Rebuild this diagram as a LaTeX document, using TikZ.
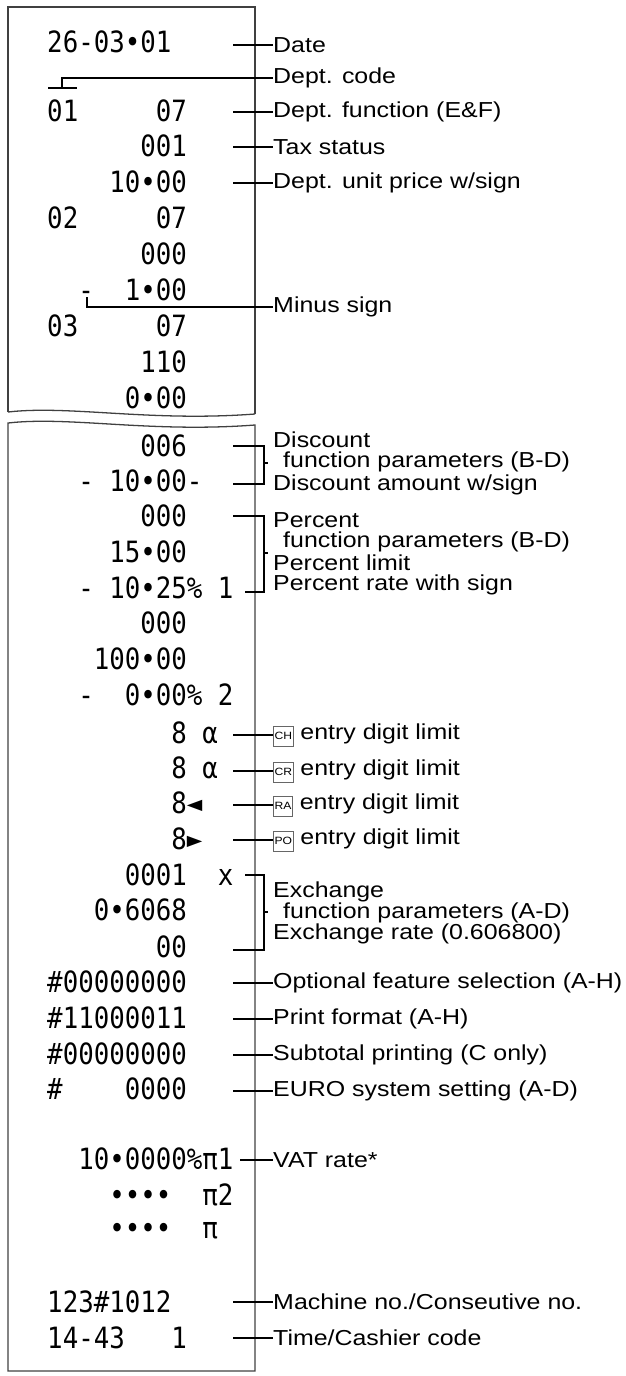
\documentclass[tikz,border=0pt]{standalone}
\usepackage{fontspec}
\setmainfont[FakeStretch=1.15]{Liberation Sans}
\newfontfamily\rcptfont[FakeStretch=0.88]{DejaVu Sans Mono}
\usetikzlibrary{calc}
\tikzstyle{row}=[anchor=west, inner sep=0pt, font=\rcptfont\fontsize{25}{25}\selectfont]
\tikzstyle{lbl}=[anchor=west, inner sep=0pt, font=\fontsize{18.5}{20}\selectfont, align=left]
\tikzstyle{lead}=[line width=0.9pt]
\tikzstyle{paper}=[line width=1.1pt, black!75]
\newcommand{\keybox}[1]{\tikz[baseline=(k.base)]\node[draw=black!60, line width=0.4pt, inner sep=1pt, minimum width=0.55cm, minimum height=0.6cm, font=\fontsize{9}{9}\selectfont] (k) {#1};}

\begin{document}
\begin{tikzpicture}[x=0.03cm, y=-0.03cm]
	\useasboundingbox (0,0) rectangle (626,1376);

	% paper strips
	\draw[paper] (8,412) -- (8,7) -- (255,7) -- (255,414);
	\draw[paper] (8,412) .. controls (70,405) and (150,422) .. (255,414);
	\draw[paper] (8,1371) -- (8,423) .. controls (70,416) and (150,433) .. (255,425) -- (255,1371) -- cycle;

	% printed rows
	\foreach \y/\t/\n in {42/26-03•01/date, 111/01~~~~~07/dfunc, 146/~~~~~~001/tax, 182/~~~~10•00/price,
		218/02~~~~~07/r5, 254/~~~~~~000/r6, 290/~~-~~1•00/minus, 326/03~~~~~07/r8, 362/~~~~~~110/r9, 398/~~~~~0•00/r10,
		446/~~~~~~006/disc, 481/~~-~10•00-/discamt, 516/~~~~~~000/pct, 552/~~~~15•00/pctlim, 588/~~-~10•25\%~1/pctrate,
		623/~~~~~~000/r16, 659/~~~100•00/r17, 695/~~-~~0•00\%~2/r18,
		733/~~~~~~~~8~α/ch, 768/~~~~~~~~8~α/cr, 803/~~~~~~~~8◄/ra, 839/~~~~~~~~8►/po,
		875/~~~~~0001~~x/exch, 910/~~~0•6068/exrate, 947/~~~~~~~00/exrate2,
		982/\#00000000/opt, 1018/\#11000011/fmt, 1054/\#00000000/sub, 1089/\#~~~~0000/euro,
		1159/~~10•0000\%π1/vat, 1195/~~~~••••~~π2/vat2, 1231/~~~~••••~~π/vat3,
		1302/123\#1012/mach, 1338/14-43~~~1/time}
		\node[row] (\n) at (47,\y) {\t};

	% labels
	\coordinate (lx) at (233,0);
	\node[lbl] (ldate) at (273,45) {Date};
	\node[lbl] (lcode) at (273,78) {Dept. code};
	\node[lbl] (lfunc) at (273,112) {Dept. function (E\&F)};
	\node[lbl] (ltax) at (273,147) {Tax status};
	\node[lbl] (lprice) at (273,183) {Dept. unit price w/sign};
	\node[lbl] (lminus) at (273,307) {Minus sign};
	\node[lbl] (ldisc) at (273,440) {Discount};
	\node[lbl] (ldiscf) at (283,462) {function parameters (B-D)};
	\node[lbl] (ldiscamt) at (273,485) {Discount amount w/sign};
	\node[lbl] (lpct) at (273,520) {Percent};
	\node[lbl] (lpctf) at (283,542) {function parameters (B-D)};
	\node[lbl] (lpctlim) at (273,563) {Percent limit};
	\node[lbl] (lpctrate) at (273,585) {Percent rate with sign};
	\node[lbl] (lch) at (273,735) {\keybox{CH} entry digit limit};
	\node[lbl] (lcr) at (273,771) {\keybox{CR} entry digit limit};
	\node[lbl] (lra) at (273,805) {\keybox{RA} entry digit limit};
	\node[lbl] (lpo) at (273,840) {\keybox{PO} entry digit limit};
	\node[lbl] (lexch) at (273,892) {Exchange};
	\node[lbl] (lexchf) at (283,913) {function parameters (A-D)};
	\node[lbl] (lexrate) at (273,934) {Exchange rate (0.606800)};
	\node[lbl] (lopt) at (273,983) {Optional feature selection (A-H)};
	\node[lbl] (lfmt) at (273,1019) {Print format (A-H)};
	\node[lbl] (lsub) at (273,1055) {Subtotal printing (C only)};
	\node[lbl] (leuro) at (273,1091) {EURO system setting (A-D)};
	\node[lbl] (lvat) at (273,1160) {VAT rate*};
	\node[lbl] (lmach) at (273,1302) {Machine no./Conseutive no.};
	\node[lbl] (ltime) at (273,1338) {Time/Cashier code};

	% straight leaders
	\foreach \l in {ldate,lfunc,ltax,lprice,lch,lcr,lra,lpo,lopt,lfmt,lsub,leuro,lmach,ltime}
		\draw[lead] (lx |- \l.west) -- (\l.west);
	\draw[lead] (240,1160) -- (lvat.west);

	% elbow leaders
	\draw[lead] (48,88) -- (77,88) (62,88) |- (lcode.west);
	\draw[lead] (87,297) |- (lminus.west);

	% brackets
	\draw[lead] (233,446) -| (264,484) -- (233,484);
	\draw[lead] (264,463) -- (268,463);
	\draw[lead] (233,516) -| (264,592) -- (245,592);
	\draw[lead] (264,553) -- (268,553);
	\draw[lead] (245,875) -| (264,950) -- (233,950);
	\draw[lead] (264,912) -- (268,912);
\end{tikzpicture}
\end{document}
